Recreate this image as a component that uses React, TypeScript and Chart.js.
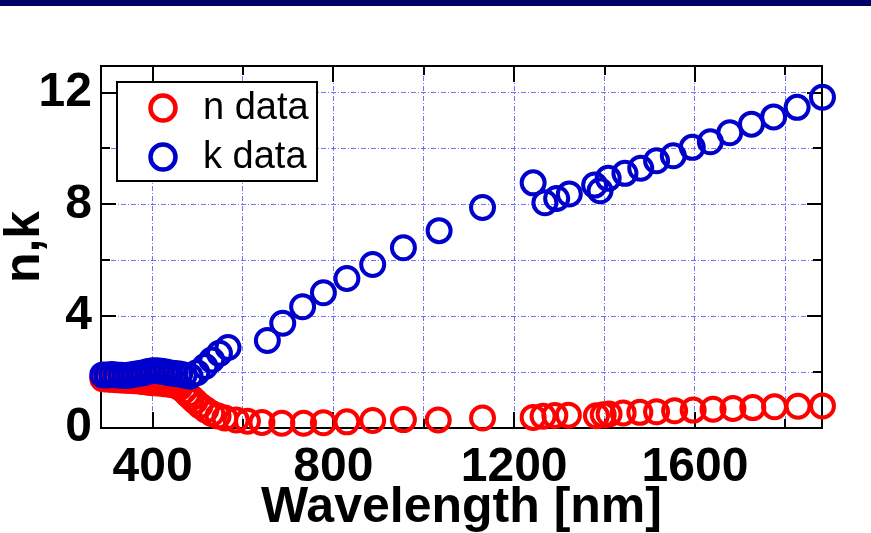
import React, { useEffect, useRef } from "react";
import { Chart, registerables } from "chart.js";

Chart.register(...registerables);

// ---- data ----
const nWavelength = [290, 300, 310, 320, 330, 340, 350, 360, 370, 380, 390, 400, 410, 420, 430, 440, 450, 460, 470, 478, 486, 494, 505, 518, 531, 545, 560, 585, 610, 642, 686, 734, 778, 830, 887, 955, 1032, 1130, 1242, 1264, 1290, 1320, 1382, 1397, 1410, 1441, 1478, 1515, 1555, 1596, 1640, 1684, 1728, 1776, 1828, 1882];
const nValues = [1.76, 1.75, 1.74, 1.73, 1.72, 1.71, 1.7, 1.69, 1.68, 1.66, 1.64, 1.62, 1.61, 1.6, 1.58, 1.56, 1.53, 1.45, 1.33, 1.2, 1.08, 0.96, 0.8, 0.65, 0.52, 0.43, 0.36, 0.29, 0.24, 0.2, 0.17, 0.17, 0.19, 0.22, 0.27, 0.3, 0.29, 0.36, 0.38, 0.42, 0.45, 0.46, 0.44, 0.47, 0.5, 0.54, 0.56, 0.58, 0.62, 0.64, 0.67, 0.7, 0.73, 0.76, 0.78, 0.79];

const kWavelength = [290, 300, 310, 320, 330, 340, 350, 360, 370, 380, 390, 400, 410, 420, 430, 440, 450, 460, 470, 483, 498, 516, 531, 548, 567, 654, 688, 732, 778, 830, 887, 955, 1034, 1130, 1242, 1268, 1294, 1322, 1378, 1390, 1408, 1445, 1480, 1515, 1552, 1594, 1634, 1677, 1725, 1774, 1826, 1882];
const kValues = [1.9, 1.9, 1.91, 1.9, 1.89, 1.88, 1.9, 1.92, 1.95, 1.98, 2.02, 2.05, 2.05, 2.03, 2.0, 1.97, 1.95, 1.93, 1.9, 1.85, 1.98, 2.2, 2.43, 2.67, 2.88, 3.13, 3.75, 4.34, 4.84, 5.35, 5.85, 6.45, 7.06, 7.89, 8.77, 8.06, 8.21, 8.37, 8.69, 8.49, 8.93, 9.11, 9.29, 9.56, 9.74, 10.04, 10.24, 10.56, 10.87, 11.13, 11.47, 11.83];

const xTickValues = [400, 600, 800, 1000, 1200, 1400, 1600, 1800];
const xLabelValues = [400, 800, 1200, 1600];
const yTickValues = [0, 2, 4, 6, 8, 10, 12];
const yLabelValues = [0, 4, 8, 12];

const seriesNames = ["n data", "k data"];
const xTitle = "Wavelength [nm]";
const yTitle = "n,k";

const RED = "#ff0000";
const BLUE = "#0000cc";
const FONT = "'Liberation Sans', Arial, sans-serif";

const framePlugin = {
  id: "frame",
  beforeDraw(chart: any) {
    const ctx = chart.ctx;
    ctx.save();
    ctx.fillStyle = "#000066";
    ctx.fillRect(0, 0, chart.width, 6);
    ctx.restore();
  },
  beforeDatasetsDraw(chart: any) {
    const { ctx, chartArea: a, scales } = chart;
    ctx.save();
    ctx.strokeStyle = "#000";
    ctx.lineWidth = 2;
    ctx.strokeRect(a.left, a.top, a.right - a.left, a.bottom - a.top);
    ctx.beginPath();
    for (const v of xTickValues) {
      const x = Math.round(scales.x.getPixelForValue(v));
      const len = xLabelValues.includes(v) ? 16 : 9;
      ctx.moveTo(x, a.bottom);
      ctx.lineTo(x, a.bottom - len);
      ctx.moveTo(x, a.top);
      ctx.lineTo(x, a.top + len);
    }
    for (const v of yTickValues) {
      const y = Math.round(scales.y.getPixelForValue(v));
      const len = yLabelValues.includes(v) ? 15 : 9;
      ctx.moveTo(a.left, y);
      ctx.lineTo(a.left + len, y);
      ctx.moveTo(a.right, y);
      ctx.lineTo(a.right - len, y);
    }
    ctx.stroke();
    ctx.restore();
  },
  afterDraw(chart: any) {
    const ctx = chart.ctx;
    const a = chart.chartArea;
    const bx = a.left + 16;
    const by = a.top + 16;
    const bw = 200;
    const bh = 99;
    ctx.save();
    ctx.fillStyle = "#fff";
    ctx.fillRect(bx, by, bw, bh);
    ctx.strokeStyle = "#000";
    ctx.lineWidth = 2;
    ctx.strokeRect(bx, by, bw, bh);
    const colors = [RED, BLUE];
    seriesNames.forEach((name, i) => {
      const cy = by + 26 + i * 49;
      ctx.beginPath();
      ctx.arc(bx + 46, cy, 12.5, 0, Math.PI * 2);
      ctx.strokeStyle = colors[i];
      ctx.lineWidth = 4.5;
      ctx.stroke();
      ctx.fillStyle = "#000";
      ctx.font = `38px ${FONT}`;
      ctx.textBaseline = "middle";
      ctx.textAlign = "left";
      ctx.fillText(name, bx + 86, cy + 1);
    });
    ctx.restore();
  },
};

export default function App() {
  const ref = useRef<HTMLCanvasElement>(null);
  useEffect(() => {
    if (!ref.current) return;
    const gridColor = "rgba(90,90,255,0.85)";
    const chart = new Chart(ref.current, {
      type: "scatter",
      data: {
        datasets: [
          {
            label: seriesNames[1],
            data: kWavelength.map((x, i) => ({ x, y: kValues[i] })),
            borderColor: BLUE,
            backgroundColor: "rgba(0,0,0,0)",
            pointRadius: 11.5,
            pointBorderWidth: 4,
            pointHoverRadius: 11.5,
            order: 0,
            clip: false as any,
          },
          {
            label: seriesNames[0],
            data: nWavelength.map((x, i) => ({ x, y: nValues[i] })),
            borderColor: RED,
            backgroundColor: "rgba(0,0,0,0)",
            pointRadius: 11.5,
            pointBorderWidth: 4,
            pointHoverRadius: 11.5,
            order: 1,
            clip: false as any,
          },
        ],
      },
      options: {
        responsive: false,
        animation: false,
        events: [],
        layout: { padding: { top: 66, right: 49, left: 0, bottom: 0 } },
        plugins: { legend: { display: false }, tooltip: { enabled: false } },
        scales: {
          x: {
            type: "linear",
            min: 286,
            max: 1881,
            afterBuildTicks: (s: any) => {
              s.ticks = xTickValues.map((v) => ({ value: v }));
            },
            afterFit: (s: any) => {
              s.height = 105;
            },
            ticks: {
              padding: 11,
              color: "#000",
              font: { family: FONT, size: 48, weight: "bold" },
              maxRotation: 0,
              autoSkip: false,
              callback: (v: any) => (xLabelValues.includes(Number(v)) ? String(v) : ""),
            },
            grid: { color: gridColor, lineWidth: 1, drawTicks: false },
            border: { display: false, dash: [5, 2, 1, 2] },
            title: {
              display: true,
              text: xTitle,
              color: "#000",
              font: { family: FONT, size: 50, weight: "bold", lineHeight: 1 },
              padding: { top: 0, bottom: 0 },
            },
          },
          y: {
            type: "linear",
            min: 0,
            max: 12.95,
            afterBuildTicks: (s: any) => {
              s.ticks = yTickValues.map((v) => ({ value: v }));
            },
            afterFit: (s: any) => {
              s.width = 101;
            },
            ticks: {
              padding: 9,
              color: "#000",
              font: { family: FONT, size: 48, weight: "bold" },
              autoSkip: false,
              callback: (v: any) => (yLabelValues.includes(Number(v)) ? String(v) : ""),
            },
            grid: { color: gridColor, lineWidth: 1, drawTicks: false },
            border: { display: false, dash: [5, 2, 1, 2] },
            title: {
              display: true,
              text: yTitle,
              color: "#000",
              font: { family: FONT, size: 50, weight: "bold", lineHeight: 1 },
              padding: { top: 0, bottom: 0 },
            },
          },
        },
      },
      plugins: [framePlugin],
    });
    return () => chart.destroy();
  }, []);
  return (
    <div style={{ position: "fixed", left: 0, top: 0, width: 871, height: 533, background: "#fff" }}>
      <canvas ref={ref} width={871} height={533} style={{ display: "block" }} />
    </div>
  );
}
